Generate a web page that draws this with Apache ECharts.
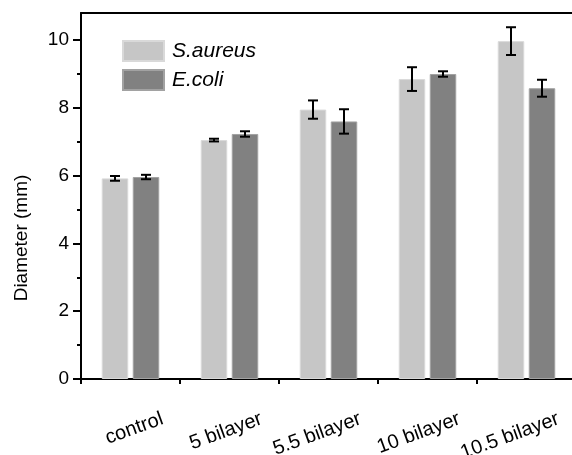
<!DOCTYPE html>
<html>
<head>
<meta charset="utf-8">
<script src="https://cdn.jsdelivr.net/npm/echarts@6/dist/echarts.min.js"></script>
<style>html,body{margin:0;padding:0;background:#fff}#c{width:572px;height:455px}</style>
</head>
<body>
<div id="c"></div>
<script>
const categories = ['control', '5 bilayer', '5.5 bilayer', '10 bilayer', '10.5 bilayer'];
const saureus = [5.92, 7.05, 7.95, 8.85, 9.97];
const saureusErr = [0.07, 0.04, 0.27, 0.35, 0.41];
const ecoli = [5.96, 7.23, 7.6, 9.0, 8.58];
const ecoliErr = [0.065, 0.08, 0.36, 0.08, 0.25];
const yMajorTicks = [0, 2, 4, 6, 8, 10];
const yMinorTicks = [1, 3, 5, 7, 9];
const seriesNames = ['S.aureus', 'E.coli'];

const FONT = '"Liberation Sans", Arial, sans-serif';
const BAR_W = 26.5;
const OFFSET = 15.5;
const GRID = { left: 81, right: -4, top: 13, bottom: 76, containLabel: false, outerBoundsMode: 'none' };

function errData(vals, errs) {
  return vals.map((v, i) => [i, v, errs[i]]);
}
function errRender(sign) {
  return function (params, api) {
    const p = api.coord([api.value(0), api.value(1)]);
    const e = api.value(2);
    const top = api.coord([api.value(0), api.value(1) + e])[1];
    const bot = api.coord([api.value(0), api.value(1) - e])[1];
    const x = p[0] + sign * OFFSET;
    const cw = 5;
    const st = { stroke: '#000', lineWidth: 2 };
    return {
      type: 'group',
      children: [
        { type: 'line', shape: { x1: x, y1: top, x2: x, y2: bot }, style: st },
        { type: 'line', shape: { x1: x - cw, y1: top, x2: x + cw, y2: top }, style: st },
        { type: 'line', shape: { x1: x - cw, y1: bot, x2: x + cw, y2: bot }, style: st }
      ]
    };
  };
}

const chart = echarts.init(document.getElementById('c'), null, { renderer: 'canvas' });
chart.setOption({
  animation: false,
  backgroundColor: '#fff',
  grid: [Object.assign({}, GRID), Object.assign({}, GRID)],
  legend: {
    data: seriesNames,
    orient: 'vertical',
    left: 122, top: 40, padding: 0,
    itemWidth: 41, itemHeight: 20, itemGap: 7,
    icon: 'rect',
    textStyle: { fontFamily: FONT, fontSize: 21, fontStyle: 'italic', color: '#000', padding: [0, 0, 0, 3] }
  },
  xAxis: [
    {
      type: 'category', data: categories, position: 'bottom', gridIndex: 0,
      axisLine: { lineStyle: { color: '#000', width: 2 } },
      axisTick: { alignWithLabel: true, length: 8, lineStyle: { color: '#000', width: 2 } },
      axisLabel: { rotate: 20, margin: 51, padding: [0, -34, 0, 0], color: '#000', fontFamily: FONT, fontSize: 20 },
      splitLine: { show: false }
    },
    {
      type: 'category', data: categories, position: 'top', gridIndex: 0,
      axisLine: { lineStyle: { color: '#000', width: 2 } },
      axisTick: { show: false }, axisLabel: { show: false }
    },
    {
      type: 'category', data: categories, position: 'bottom', gridIndex: 1,
      axisLine: { show: false },
      axisTick: { show: true, alignWithLabel: false, interval: 0, length: 5, lineStyle: { color: '#000', width: 2 } },
      axisLabel: { show: false }
    }
  ],
  yAxis: [
    {
      type: 'value', min: 0, max: 10.8, interval: 2, gridIndex: 0,
      name: 'Diameter (mm)', nameLocation: 'middle', nameGap: 50, nameRotate: 90,
      nameTextStyle: { fontFamily: FONT, fontSize: 19, color: '#000', padding: [0, 84, 0, 0] },
      axisLine: { show: true, lineStyle: { color: '#000', width: 2 } },
      axisTick: { show: true, length: 8, customValues: yMajorTicks, lineStyle: { color: '#000', width: 2 } },
      axisLabel: { customValues: yMajorTicks, margin: 12, color: '#000', fontFamily: FONT, fontSize: 19 },
      splitLine: { show: false }
    },
    {
      type: 'value', min: 0, max: 10.8, position: 'left', gridIndex: 1,
      axisLine: { show: false },
      axisTick: { show: true, length: 4, customValues: yMinorTicks, lineStyle: { color: '#000', width: 2 } },
      axisLabel: { show: false },
      splitLine: { show: false }
    }
  ],
  series: [
    {
      name: seriesNames[0], type: 'bar', data: saureus, barWidth: BAR_W, barGap: '17%',
      xAxisIndex: 0, yAxisIndex: 0,
      itemStyle: { color: '#c6c6c6', borderColor: '#d9d9d9', borderWidth: 1 }
    },
    {
      name: seriesNames[1], type: 'bar', data: ecoli, barWidth: BAR_W, barGap: '17%',
      xAxisIndex: 0, yAxisIndex: 0,
      itemStyle: { color: '#818181', borderColor: '#a2a2a2', borderWidth: 1 }
    },
    { type: 'custom', name: 'errA', data: errData(saureus, saureusErr), renderItem: errRender(-1), z: 5, xAxisIndex: 0, yAxisIndex: 0 },
    { type: 'custom', name: 'errB', data: errData(ecoli, ecoliErr), renderItem: errRender(1), z: 5, xAxisIndex: 0, yAxisIndex: 0 }
  ]
});
</script>
</body>
</html>
